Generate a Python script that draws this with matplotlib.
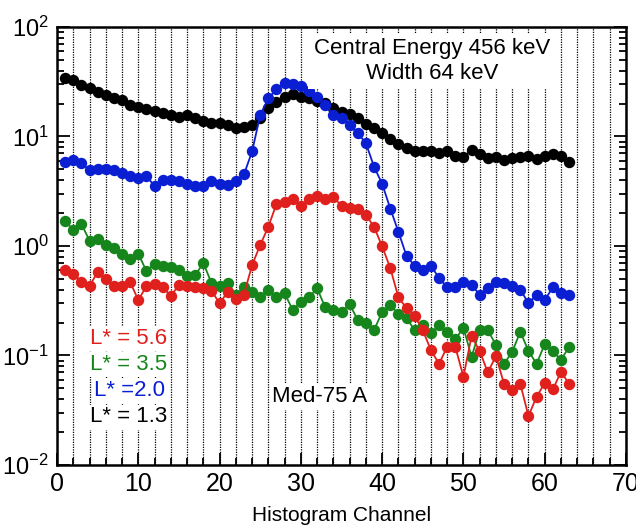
import numpy as np
import matplotlib
matplotlib.use("Agg")
import matplotlib.pyplot as plt
from matplotlib.ticker import MultipleLocator, LogLocator, NullFormatter

plt.rcParams['font.family'] = ['Liberation Sans', 'DejaVu Sans']
plt.rcParams['mathtext.fontset'] = 'custom'
plt.rcParams['mathtext.rm'] = 'Liberation Sans'
plt.rcParams['mathtext.it'] = 'Liberation Sans:italic'

# --- datos: canales del histograma y cuentas de cada serie ---
canales = list(range(1, 64))

negro = [34, 32.8, 29.5, 27.5, 25.6, 23.9, 22.6, 21.5, 19.4, 18.5,
         17.7, 17.1, 16.5, 15.7, 15.2, 15.7, 14.7, 13.9, 13.4, 13.2,
         12.7, 11.9, 12.1, 12.7, 14.7, 18.1, 20.8, 23.1, 24.3, 23.1,
         22.3, 21.2, 20.1, 18.1, 16.9, 16.0, 14.7, 13.0, 11.9, 10.7,
         9.4, 8.5, 7.8, 7.4, 7.3, 7.3, 7.0, 7.3, 6.6, 6.5,
         7.5, 6.9, 6.3, 6.5, 6.1, 6.3, 6.5, 6.6, 6.2, 6.6,
         6.9, 6.6, 5.8]

azul = [5.9, 6.1, 5.7, 4.9, 5.1, 5.0, 4.9, 4.6, 4.4, 4.2,
        4.4, 3.5, 4.0, 4.0, 3.9, 3.7, 3.5, 3.5, 3.9, 3.7,
        3.6, 3.9, 4.5, 7.3, 15.7, 22.3, 27, 30.6, 30, 28.9,
        26.2, 23.1, 19.4, 15.7, 14.7, 12.7, 10.7, 8.7, 5.3, 3.7,
        2.2, 1.35, 0.81, 0.66, 0.60, 0.66, 0.51, 0.42, 0.42, 0.47,
        0.44, 0.36, 0.41, 0.47, 0.46, 0.43, 0.40, 0.30, 0.36, 0.32,
        0.42, 0.37, 0.36]

verde = [1.70, 1.40, 1.59, 1.12, 1.15, 1.02, 0.95, 0.85, 0.76, 0.85,
         0.59, 0.69, 0.65, 0.64, 0.60, 0.53, 0.54, 0.70, 0.46, 0.43,
         0.46, 0.36, 0.42, 0.38, 0.34, 0.40, 0.34, 0.37, 0.26, 0.31,
         0.34, 0.41, 0.275, 0.26, 0.25, 0.295, 0.21, 0.20, 0.17, 0.25,
         0.29, 0.24, 0.22, 0.17, 0.19, 0.16, 0.19, 0.165, 0.14, 0.18,
         0.097, 0.17, 0.17, 0.125, 0.084, 0.108, 0.165, 0.11, 0.084, 0.127,
         0.11, 0.091, 0.12]

rojo = [0.61, 0.56, 0.47, 0.43, 0.58, 0.50, 0.43, 0.43, 0.47, 0.32,
        0.43, 0.45, 0.42, 0.35, 0.44, 0.43, 0.42, 0.41, 0.39, 0.30,
        0.38, 0.33, 0.36, 0.67, 1.02, 1.5, 2.42, 2.54, 2.67, 2.32,
        2.67, 2.87, 2.67, 2.82, 2.32, 2.21, 2.16, 1.92, 1.5, 0.99,
        0.63, 0.34, 0.27, 0.23, 0.17, 0.112, 0.084, 0.12, 0.12, 0.064,
        0.15, 0.11, 0.07, 0.099, 0.055, 0.048, 0.055, 0.028, 0.042, 0.056,
        0.049, 0.071, 0.055]

# orden de dibujo: negro, azul, verde, rojo
series = [
    (negro, 'black', 'L* = 1.3'),
    (azul, '#0a1ed2', 'L* =2.0'),
    (verde, '#16861c', 'L* = 3.5'),
    (rojo, '#e0201c', 'L* = 5.6'),
]

W, H = 636, 527
fig = plt.figure(figsize=(W / 100, H / 100), dpi=100)
ax = fig.add_axes([57 / W, 1 - 465 / H, 569 / W, 438 / H])

for valores, color, _ in series:
    ax.plot(canales, valores, '-o', color=color, lw=1.3, ms=7.2, mec=color, zorder=3)

ax.set_yscale('log')
ax.set_xlim(0, 70)
ax.set_ylim(1e-2, 1e2)

ax.xaxis.set_major_locator(MultipleLocator(10))
ax.xaxis.set_minor_locator(MultipleLocator(2))
ax.yaxis.set_major_locator(LogLocator(base=10))
ax.yaxis.set_minor_locator(LogLocator(base=10, subs=np.arange(2, 10)))
ax.yaxis.set_minor_formatter(NullFormatter())

ax.grid(True, which='both', axis='x', color='black', linestyle=(0, (1, 1)), lw=0.9)
ax.set_axisbelow(True)

ax.tick_params(which='both', direction='in', left=True, right=True, top=False, bottom=True,
               labelsize=18, width=1.3)
ax.tick_params(which='major', length=9)
ax.tick_params(which='minor', length=5)
ax.tick_params(axis='y', which='major', pad=6, labelsize=17)
ax.tick_params(axis='x', which='major', pad=5)
for s in ax.spines.values():
    s.set_linewidth(1.8)

ax.set_xlabel('Histogram Channel', fontsize=15, labelpad=7)

def px(x, y):
    # posicion en pixeles de la figura (desde arriba a la izquierda)
    return x / W, 1 - y / H

caja = dict(facecolor='white', edgecolor='none', pad=4)
ax.text(*px(432, 61), 'Central Energy 456 keV\nWidth 64 keV', transform=fig.transFigure,
        fontsize=16, ha='center', va='center', linespacing=1.2, bbox=caja, zorder=4)

# etiquetas de color a la izquierda (de arriba a abajo: rojo, verde, azul, negro)
y_etiquetas = [338, 364, 390, 417]
for (valores, color, etiqueta), y in zip(series[::-1], y_etiquetas):
    ax.text(*px(129, y), etiqueta, transform=fig.transFigure, color=color, fontsize=16,
            ha='center', va='center', bbox=dict(facecolor='white', edgecolor='none', pad=1.5),
            zorder=4)

ax.text(*px(320, 397), 'Med-75 A', transform=fig.transFigure, fontsize=16,
        ha='center', va='center', bbox=dict(facecolor='white', edgecolor='none', pad=2),
        zorder=4)

plt.savefig('out.png', dpi=100)
